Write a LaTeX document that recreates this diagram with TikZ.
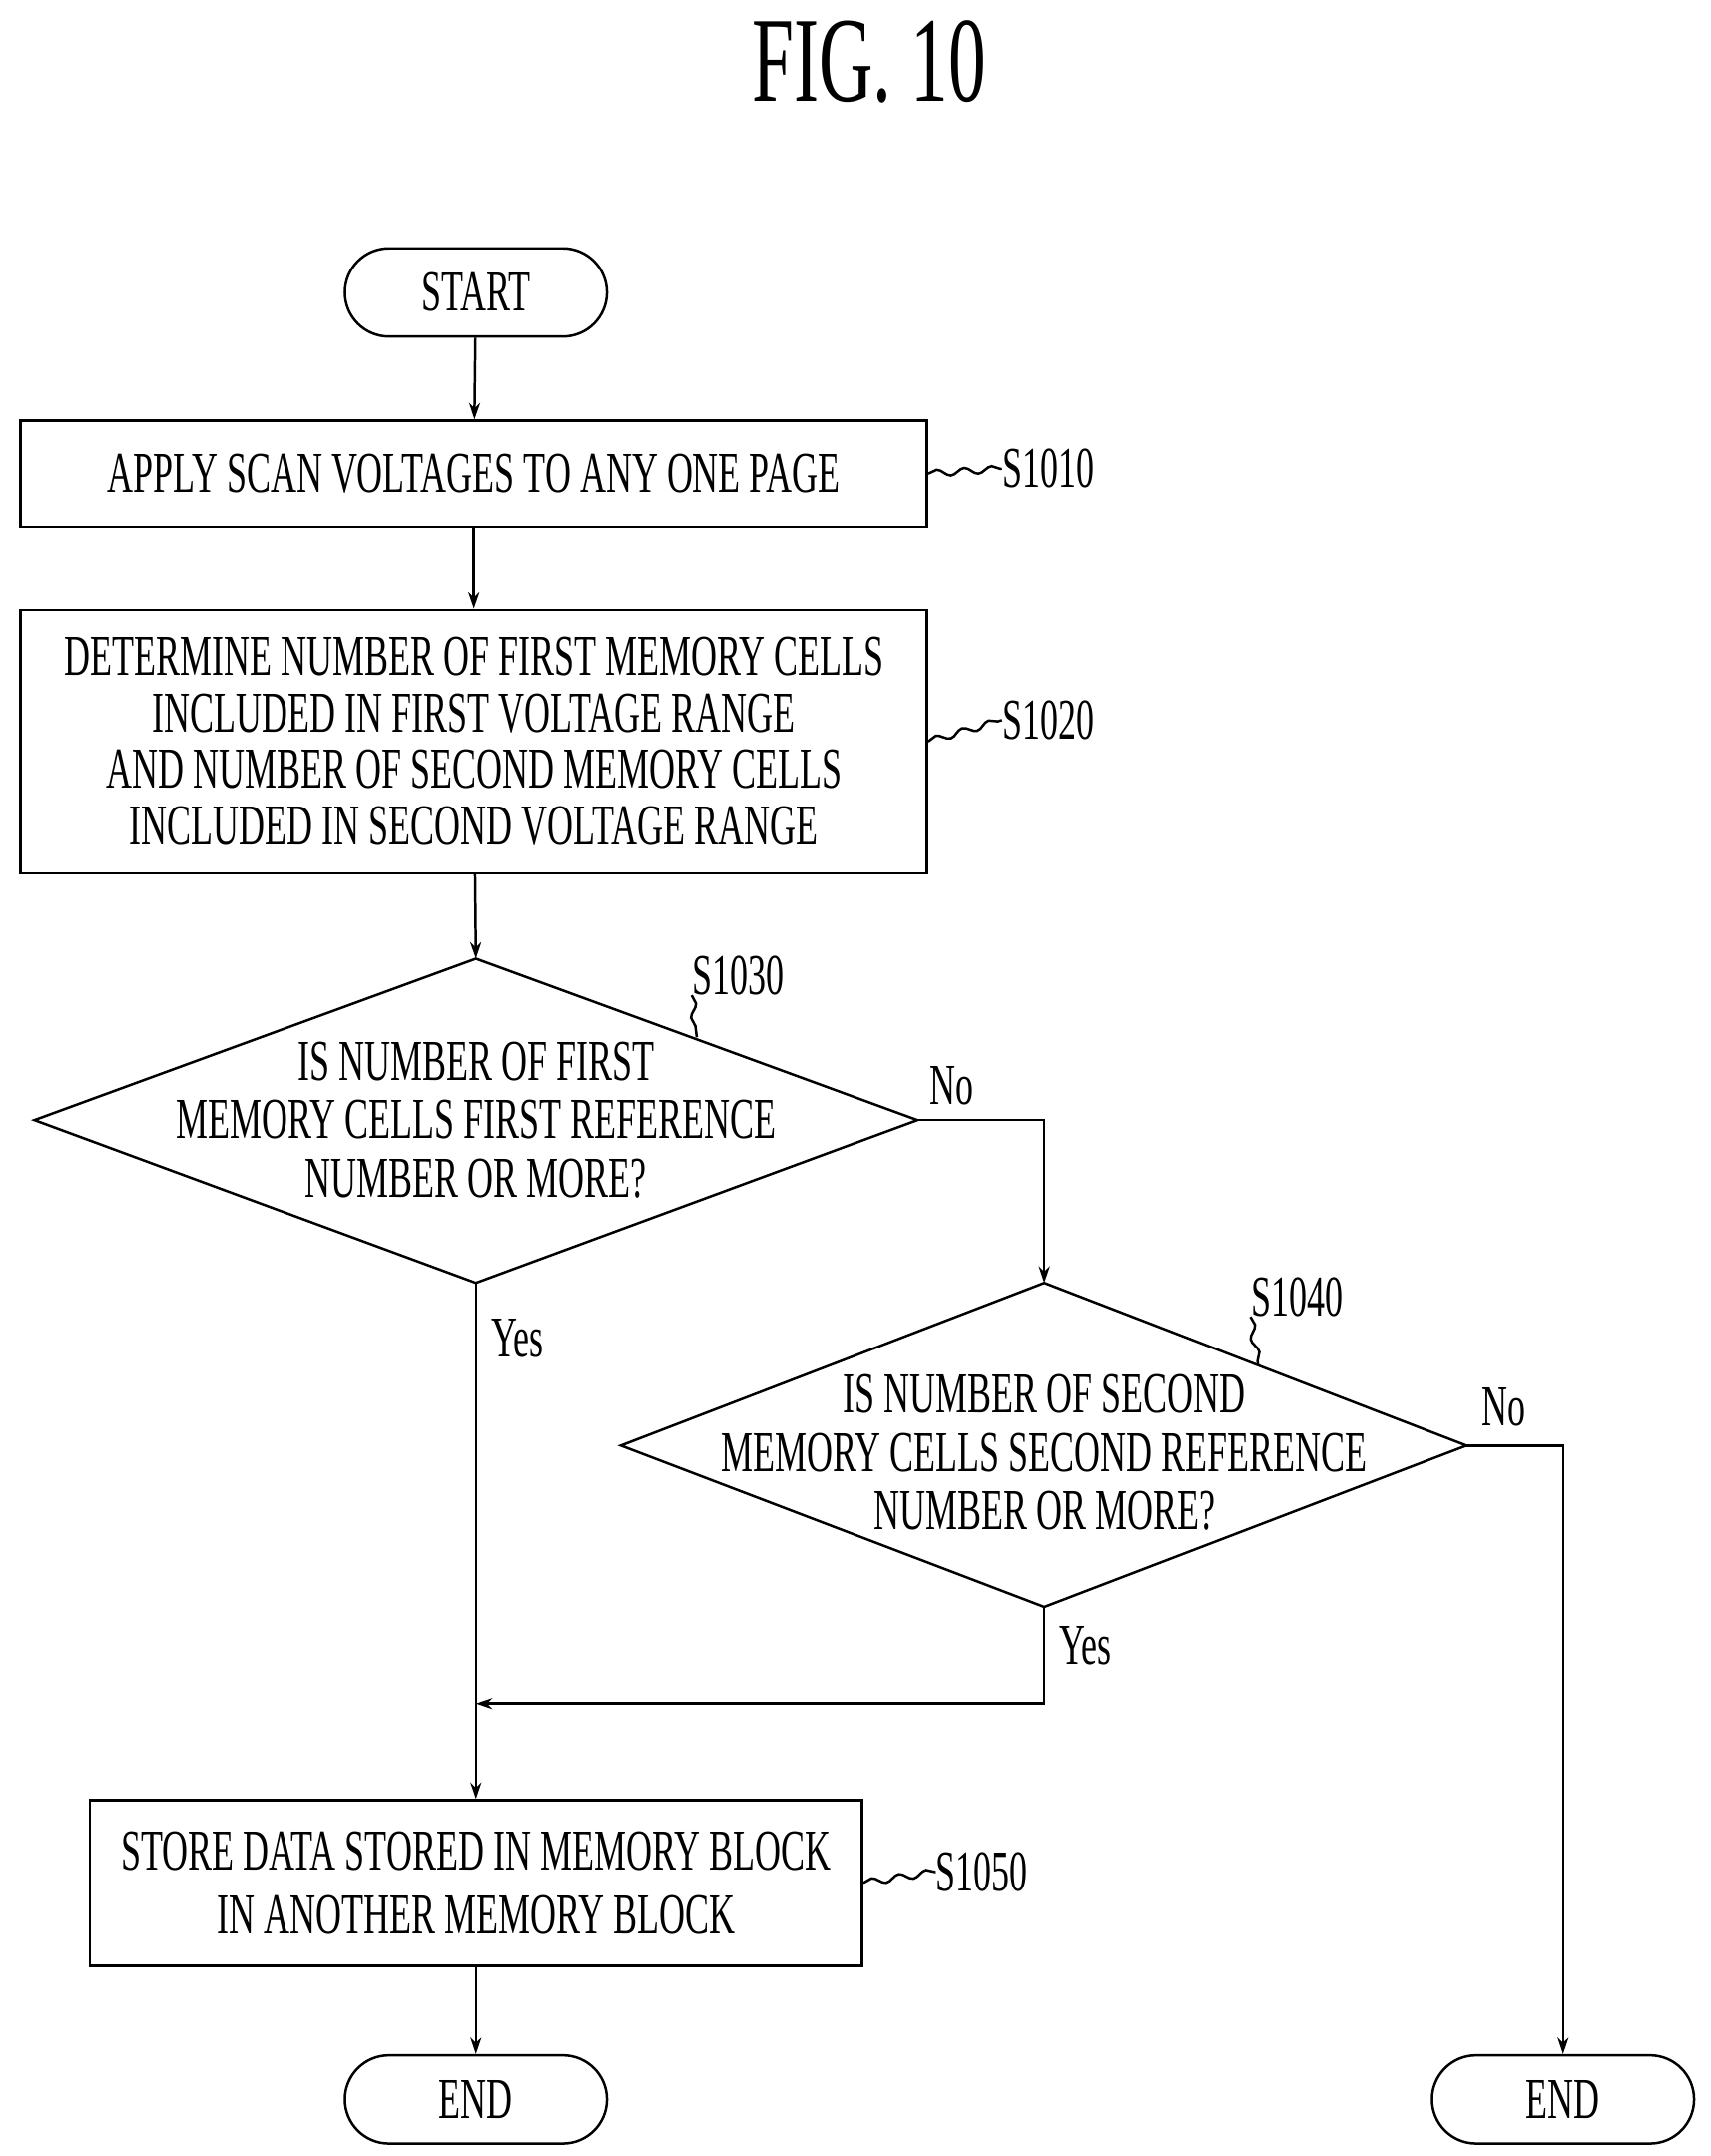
\documentclass[tikz,border=0pt]{standalone}
\usepackage{fontspec}
\setmainfont{Liberation Serif}[FakeStretch=0.62]
\usetikzlibrary{arrows.meta,decorations.pathmorphing}
\begin{document}
\begin{tikzpicture}[x=0.5pt,y=-0.5pt,
  txt/.style={font=\fontsize{21}{21}\selectfont,align=center,inner sep=0},
  box/.style={draw,line width=0.9pt},
  term/.style={draw,line width=0.9pt,rounded corners=16pt,font=\fontsize{21}{21}\selectfont,minimum width=95pt,minimum height=32pt},
  ln/.style={line width=0.9pt},
  arr/.style={ln,-{Stealth[length=6pt,width=4pt]}},
  lab/.style={font=\fontsize{21}{21}\selectfont,inner sep=0},
  sq/.style={ln,decorate,decoration={snake,amplitude=1.2pt,segment length=10pt}}]
\useasboundingbox (0,0) rectangle (1240,1563);
\node[font=\fontsize{44}{44}\selectfont] (title) at (630,45) {FIG. 10};
\node[term] (start) at (345,212) {START};
\node[box,minimum width=328.5pt,minimum height=38.5pt] (s1010) at (343.5,343.5) {};
\node[txt] at (s1010) {APPLY SCAN VOLTAGES TO ANY ONE PAGE};
\node[box,minimum width=328.5pt,minimum height=95.5pt] (s1020) at (343.5,537.5) {};
\node[txt] at (s1020) {DETERMINE NUMBER OF FIRST MEMORY CELLS\\[-0.5pt]INCLUDED IN FIRST VOLTAGE RANGE\\[-0.5pt]AND NUMBER OF SECOND MEMORY CELLS\\[-0.5pt]INCLUDED IN SECOND VOLTAGE RANGE};
% diamond 1
\coordinate (d1t) at (345,695); \coordinate (d1b) at (345,930);
\coordinate (d1l) at (25,812); \coordinate (d1r) at (665,812);
\draw[ln] (d1t)--(d1r)--(d1b)--(d1l)--cycle;
\node[txt] (d1) at (345,812) {IS NUMBER OF FIRST\\MEMORY CELLS FIRST REFERENCE\\NUMBER OR MORE?};
% diamond 2
\coordinate (d2t) at (757,930); \coordinate (d2b) at (757,1165);
\coordinate (d2l) at (450,1048); \coordinate (d2r) at (1063,1048);
\draw[ln] (d2t)--(d2r)--(d2b)--(d2l)--cycle;
\node[txt] (d2) at (757,1053) {IS NUMBER OF SECOND\\MEMORY CELLS SECOND REFERENCE\\NUMBER OR MORE?};
\node[box,minimum width=280pt,minimum height=60pt] (s1050) at (345,1365) {};
\node[txt] at (s1050) {STORE DATA STORED IN MEMORY BLOCK\\[2pt]IN ANOTHER MEMORY BLOCK};
\node[term] (end1) at (345,1522) {END};
\node[term] (end2) at (1133,1522) {END};
% step labels
\node[lab] (l1010) at (760,340) {S1010};
\node[lab] (l1020) at (760,522) {S1020};
\node[lab] (l1030) at (535,707) {S1030};
\node[lab] (l1040) at (940,940) {S1040};
\node[lab] (l1050) at (712,1357) {S1050};
\draw[sq] (s1010.east) -- (l1010.west);
\draw[sq] (s1020.east) -- (l1020.west);
\draw[sq] (l1030.south west) -- (505,752);
\draw[sq] (l1040.south west) -- (912,990);
\draw[sq] (s1050.east) -- (l1050.west);
% connectors
\draw[arr] (start) -- (s1010);
\draw[arr] (s1010) -- (s1020);
\draw[arr] (s1020) -- (d1t);
\draw[arr] (d1r) -| (d2t);
\draw[arr] (d1b) -- (s1050);
\coordinate (j) at (345,1235);
\draw[arr] (d2b) |- (j);
\draw[arr] (d2r) -| (end2);
\draw[arr] (s1050) -- (end1);
\node[lab] (no1) at (690,787) {No};
\node[lab] (yes1) at (375,970) {Yes};
\node[lab] (no2) at (1090,1020) {No};
\node[lab] (yes2) at (787,1193) {Yes};
\end{tikzpicture}
\end{document}
